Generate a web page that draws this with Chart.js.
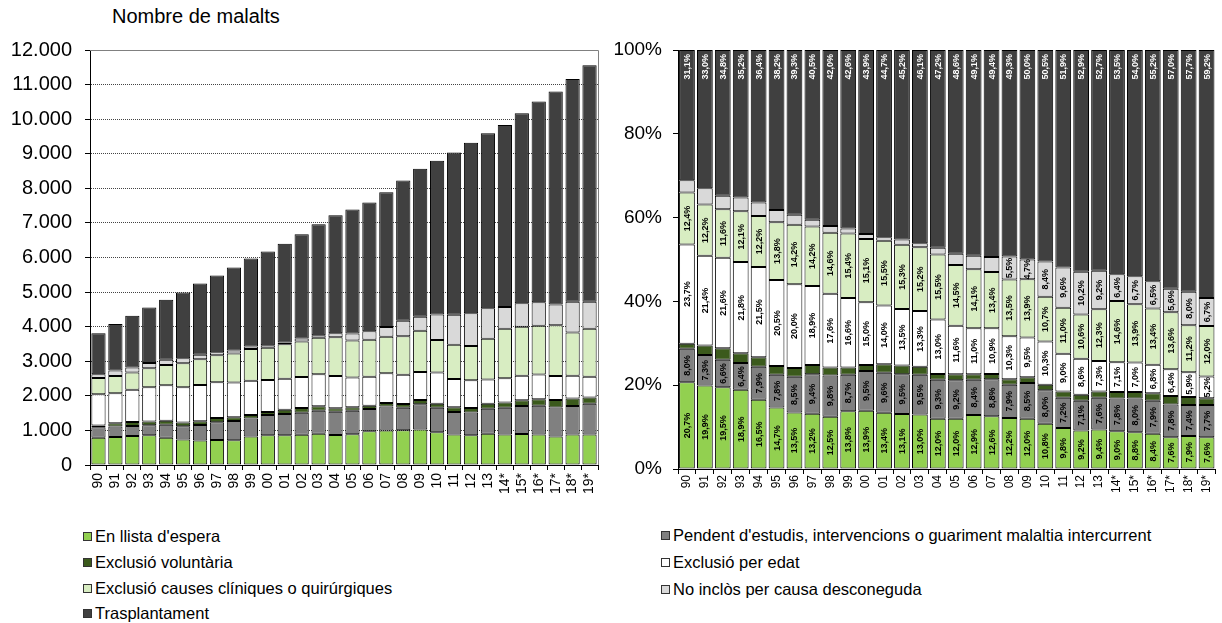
<!DOCTYPE html>
<html>
<head>
<meta charset="utf-8">
<script src="https://cdn.jsdelivr.net/npm/chart.js@4.4.1/dist/chart.umd.min.js"></script>
<style>
  body { margin:0; background:#fff; width:1222px; height:623px; overflow:hidden; position:relative;
         font-family: Arial, "Liberation Sans", sans-serif; }
  #left  { position:absolute; left:0; top:0; }
  #right { position:absolute; left:600px; top:0; }
  #title { position:absolute; left:112px; top:5px; font-size:20px; color:#000; white-space:nowrap; }
  .leg { position:absolute; font-size:16.5px; line-height:18px; color:#000; white-space:nowrap; }
  .sw { position:absolute; left:-12px; top:5px; width:7px; height:7px; border:1px solid #333; }
</style>
</head>
<body>
<div id="title">Nombre de malalts</div>
<canvas id="left" width="610" height="510"></canvas>
<canvas id="right" width="622" height="510"></canvas>
<div id="legend"></div>
<script>
// ---------- DATA ----------
const CATEGORIES = ['90','91','92','93','94','95','96','97','98','99','00','01','02','03','04','05','06','07','08','09','10','11','12','13','14*','15*','16*','17*','18*','19*'];

// total number of patients per year (left chart bar heights)
const TOTALS = [3810,4080,4320,4550,4780,4990,5250,5480,5710,5970,6170,6400,6670,6960,7220,7390,7590,7890,8230,8570,8800,9035,9320,9590,9830,10170,10510,10800,11160,11560];

// shares (%) per category
const EN_LLISTA  = [20.7,19.9,19.5,18.9,16.5,14.7,13.5,13.2,12.5,13.8,13.9,13.4,13.1,13.0,12.0,12.0,12.9,12.6,12.2,12.0,10.8,9.8,9.2,9.4,9.0,8.8,8.4,7.6,7.9,7.6];
const PENDENT    = [8.0,7.3,6.6,6.4,7.9,7.8,8.5,9.4,9.8,8.7,9.5,9.6,9.5,9.5,9.3,9.2,8.4,8.8,7.9,8.5,8.0,7.2,7.1,7.6,7.8,8.0,7.9,7.8,7.4,7.7];
const VOLUNTARIA = [1.2,2.3,2.7,2.3,2.3,2.1,2.1,2.2,1.9,1.7,1.4,2.0,2.1,1.9,1.4,1.4,1.3,1.3,1.3,1.4,1.3,1.5,1.4,1.5,1.6,1.6,1.8,2.0,1.9,1.6];
const EDAT       = [23.7,21.4,21.6,21.8,21.5,20.5,20.0,18.9,17.6,16.6,15.0,14.0,13.5,13.3,13.0,11.6,11.0,10.9,10.3,9.5,10.3,9.0,8.6,7.3,7.1,7.0,6.8,6.4,5.9,5.2];
const CLINIQUES  = [12.4,12.2,11.6,12.1,12.2,13.8,14.2,14.2,14.6,15.4,15.1,15.5,15.3,15.2,15.5,14.5,14.1,13.4,13.5,13.9,10.7,11.0,10.6,12.3,14.6,13.9,13.4,13.6,11.2,12.0];
const NO_INCLOS  = [2.9,3.9,3.2,3.3,3.2,2.9,2.4,1.6,1.6,1.2,1.2,0.8,1.3,1.0,1.6,2.7,3.2,3.6,5.5,4.7,8.4,9.6,10.2,9.2,6.4,6.7,6.5,5.6,8.0,6.7];
const TRASPLANT  = [31.1,33.0,34.8,35.2,36.4,38.2,39.3,40.5,42.0,42.6,43.9,44.7,45.2,46.1,47.2,48.6,49.1,49.4,49.3,50.0,50.5,51.9,52.9,52.7,53.5,54.0,55.2,57.0,57.7,59.2];

const LEFT_TICKS_MAX = 12000;
const RIGHT_TICKS_MAX = 100;

// ---------- SERIES ----------
const FONT = 'Arial, "Liberation Sans", sans-serif';
const SERIES = [
  { label:"En llista d'espera", pct:EN_LLISTA, color:'#92D050', labelColor:'#000', showLabels:true },
  { label:"Pendent d'estudis, intervencions o guariment malaltia intercurrent", pct:PENDENT, color:'#808080', labelColor:'#000', showLabels:true },
  { label:"Exclusió voluntària", pct:VOLUNTARIA, color:'#3B5A1C', labelColor:'#000', showLabels:false },
  { label:"Exclusió per edat", pct:EDAT, color:'#FFFFFF', labelColor:'#000', showLabels:true },
  { label:"Exclusió causes clíniques o quirúrgiques", pct:CLINIQUES, color:'#D8EDC2', labelColor:'#000', showLabels:true },
  { label:"No inclòs per causa desconeguda", pct:NO_INCLOS, color:'#D9D9D9', labelColor:'#000', showLabels:true, minLabel:4.5 },
  { label:"Trasplantament", pct:TRASPLANT, color:'#404040', labelColor:'#FFFFFF', showLabels:true, atEnd:true }
];

function fmtThousands(v){ return String(v).replace(/\B(?=(\d{3})+(?!\d))/g, '.'); }

// ---------- PLUGINS ----------
const plotBorder = {
  id:'plotBorder',
  afterDatasetsDraw(chart){
    const a = chart.chartArea, c = chart.ctx;
    c.save();
    c.strokeStyle = '#808080'; c.lineWidth = 1;
    c.beginPath();
    c.moveTo(a.left, a.top + 0.5); c.lineTo(a.right + 0.5, a.top + 0.5); c.lineTo(a.right + 0.5, a.bottom);
    c.stroke();
    c.restore();
  }
};

const barLabels = {
  id:'barLabels',
  afterDatasetsDraw(chart){
    const c = chart.ctx;
    c.save();
    c.font = 'bold 9px ' + FONT;
    c.textBaseline = 'middle';
    chart.data.datasets.forEach((ds, di) => {
      const s = SERIES[di];
      if (!s.showLabels) return;
      const meta = chart.getDatasetMeta(di);
      meta.data.forEach((bar, i) => {
        const v = ds.data[i];
        if (s.minLabel && v < s.minLabel) return;
        const txt = v.toFixed(1).replace('.', ',') + '%';
        c.fillStyle = s.labelColor;
        c.save();
        if (s.atEnd) {
          c.translate(bar.x, bar.y + 4);
          c.rotate(-Math.PI/2);
          c.textAlign = 'right';
        } else {
          c.translate(bar.x, (bar.y + bar.base)/2);
          c.rotate(-Math.PI/2);
          c.textAlign = 'center';
        }
        c.fillText(txt, 0, 0.5);
        c.restore();
      });
    });
    c.restore();
  }
};

// ---------- LEFT CHART ----------
new Chart(document.getElementById('left'), {
  type:'bar',
  data:{
    labels: CATEGORIES,
    datasets: SERIES.map(s => ({
      label: s.label,
      data: s.pct.map((p, i) => Math.round(p * TOTALS[i] / 100)),
      backgroundColor: s.color, borderColor:'#000', borderWidth:1, borderSkipped:false,
      barPercentage:0.84, categoryPercentage:1
    }))
  },
  options:{
    responsive:false, animation:false, devicePixelRatio:1,
    layout:{ padding:{ left:0, right:12, top:50, bottom:0 } },
    plugins:{ legend:{display:false}, tooltip:{enabled:false}, title:{display:false} },
    scales:{
      x:{ stacked:true,
          grid:{ display:true, drawOnChartArea:false, drawTicks:true, tickLength:5, color:'#000' },
          border:{ color:'#000', width:1 },
          ticks:{ color:'#000', font:{ family:FONT, size:14 }, maxRotation:90, minRotation:90, autoSkip:false, padding:3 },
          afterFit(s){ s.height = 45; } },
      y:{ stacked:true, min:0, max:LEFT_TICKS_MAX,
          ticks:{ stepSize:1000, color:'#000', font:{ family:FONT, size:20 }, padding:13, callback:v => fmtThousands(v) },
          grid:{ color:'#444', tickColor:'#000', tickLength:5, tickBorderDash:[] },
          border:{ color:'#000', width:1, dash:[1,1] },
          afterFit(s){ s.width = 90; } }
    }
  },
  plugins:[plotBorder]
});

// ---------- RIGHT CHART ----------
new Chart(document.getElementById('right'), {
  type:'bar',
  data:{
    labels: CATEGORIES,
    datasets: SERIES.map(s => ({
      label: s.label, data: s.pct,
      backgroundColor: s.color, borderColor:'#000', borderWidth:1, borderSkipped:false,
      barPercentage:0.88, categoryPercentage:1
    }))
  },
  options:{
    responsive:false, animation:false, devicePixelRatio:1,
    layout:{ padding:{ left:0, right:2, top:50, bottom:0 } },
    plugins:{ legend:{display:false}, tooltip:{enabled:false} },
    scales:{
      x:{ stacked:true,
          grid:{ display:true, drawOnChartArea:false, drawTicks:true, tickLength:5, color:'#000' },
          border:{ color:'#000', width:1 },
          ticks:{ color:'#000', font:{ family:FONT, size:12 }, maxRotation:90, minRotation:90, autoSkip:false, padding:1 },
          afterFit(s){ s.height = 41; } },
      y:{ stacked:true, min:0, max:RIGHT_TICKS_MAX,
          ticks:{ stepSize:20, color:'#000', font:{ family:FONT, size:19 }, padding:11, callback:v => v + '%' },
          grid:{ drawOnChartArea:false, color:'#000', tickLength:5 },
          border:{ color:'#000', width:1 },
          afterFit(s){ s.width = 78; } }
    }
  },
  plugins:[barLabels]
});

// ---------- LEGEND (HTML) ----------
const legendPos = [
  { idx:0, x:95,  y:527 },
  { idx:2, x:95,  y:553 },
  { idx:4, x:95,  y:579 },
  { idx:6, x:95,  y:604 },
  { idx:1, x:673, y:526 },
  { idx:3, x:673, y:553 },
  { idx:5, x:673, y:580 }
];
const legendEl = document.getElementById('legend');
legendPos.forEach(p => {
  const s = SERIES[p.idx];
  const d = document.createElement('div');
  d.className = 'leg';
  d.style.left = p.x + 'px'; d.style.top = p.y + 'px';
  const sw = document.createElement('span');
  sw.className = 'sw'; sw.style.background = s.color;
  d.appendChild(sw);
  d.appendChild(document.createTextNode(s.label));
  legendEl.appendChild(d);
});
</script>
</body>
</html>
